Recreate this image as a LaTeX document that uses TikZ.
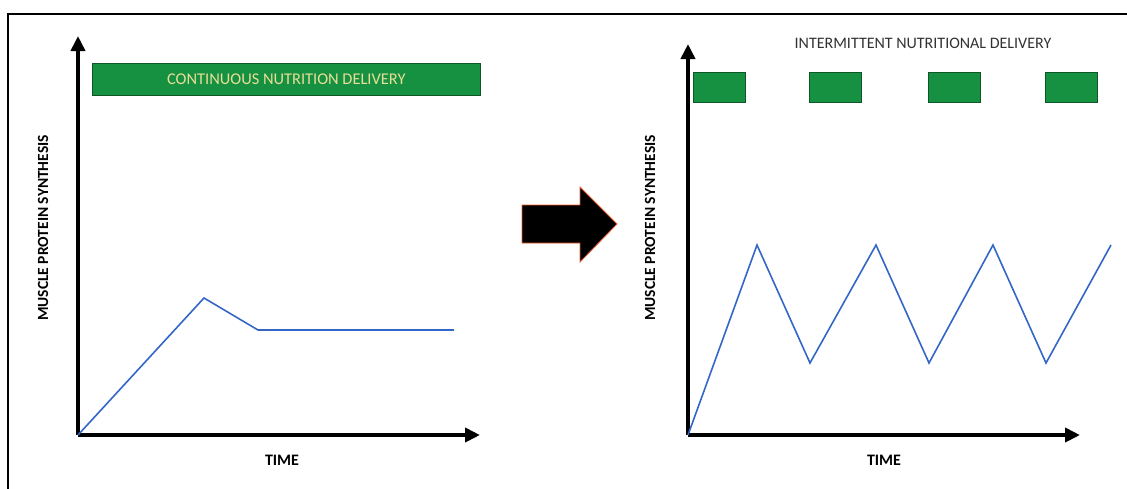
\documentclass[tikz,border=0pt]{standalone}
\usepackage{fontspec}
\setmainfont{Carlito}
\usepackage{xcolor}
\usepackage{tikz}
\usetikzlibrary{positioning,arrows.meta}
\definecolor{barGreen}{RGB}{22,145,66}
\definecolor{barText}{RGB}{232,222,150}
\definecolor{curveBlue}{RGB}{52,102,200}
\definecolor{titleGray}{RGB}{50,50,50}
\definecolor{edgeRed}{RGB}{235,90,50}

\begin{document}
\begin{tikzpicture}[x=1pt, y=-1pt,
		axis/.style={line width=4.5pt, -{Triangle[length=15pt,width=14pt]}},
		curve/.style={curveBlue, line width=1.6pt, line join=miter},
		bar/.style={draw=barGreen!60!black, fill=barGreen, line width=0.6pt},
		ylab/.style={font=\bfseries\fontsize{15.5}{18}\selectfont, rotate=90},
		xlab/.style={font=\bfseries\fontsize{16}{18}\selectfont}]
		\useasboundingbox (0,0) rectangle (1127,488);
		\draw[line width=1.6pt] (8,14) rectangle (1140,500);

		% continuous delivery
		\coordinate (o1) at (78,435);
		\coordinate (ytip1) at (78,36);
		\coordinate (xtip1) at (480,435);
		\draw[axis] (o1) -- (ytip1);
		\draw[axis] (o1) -- (xtip1);
		\node[bar, minimum width=388pt, minimum height=32pt, anchor=north west] (contbar) at (92,63) {};
		\node[text=barText, font=\fontsize{16.4}{18}\selectfont] at (contbar.center) {CONTINUOUS NUTRITION DELIVERY};
		\node[ylab] (ylab1) at (43,228) {MUSCLE PROTEIN SYNTHESIS};
		\node[xlab] (xlab1) at (282,460) {TIME};
		\draw[curve] (o1) -- (204,298) -- (258,330) -- (454,330);

		% big arrow between the panels
		\filldraw[fill=black, draw=edgeRed, line width=0.8pt] (522,205) -- (580,205) -- (580,187) -- (617,224) -- (580,262) -- (580,243) -- (522,243) -- cycle;

		% intermittent delivery
		\coordinate (o2) at (688,435);
		\coordinate (ytip2) at (688,44);
		\coordinate (xtip2) at (1080,435);
		\draw[axis] (o2) -- (ytip2);
		\draw[axis] (o2) -- (xtip2);
		\node[text=titleGray, font=\fontsize{16}{18}\selectfont] (title2) at (923,43) {INTERMITTENT NUTRITIONAL DELIVERY};
		\foreach \x [count=\i] in {693,809,928,1045}
			\node[bar, minimum width=52pt, minimum height=30pt, anchor=north west] (feed\i) at (\x,72) {};
		\node[ylab] (ylab2) at (650,228) {MUSCLE PROTEIN SYNTHESIS};
		\node[xlab] (xlab2) at (884,460) {TIME};
		\draw[curve] (o2) -- (757,245) -- (810,363) -- (876,245) -- (929,363) -- (993,245) -- (1046,363) -- (1111,245);
	\end{tikzpicture}
\end{document}
